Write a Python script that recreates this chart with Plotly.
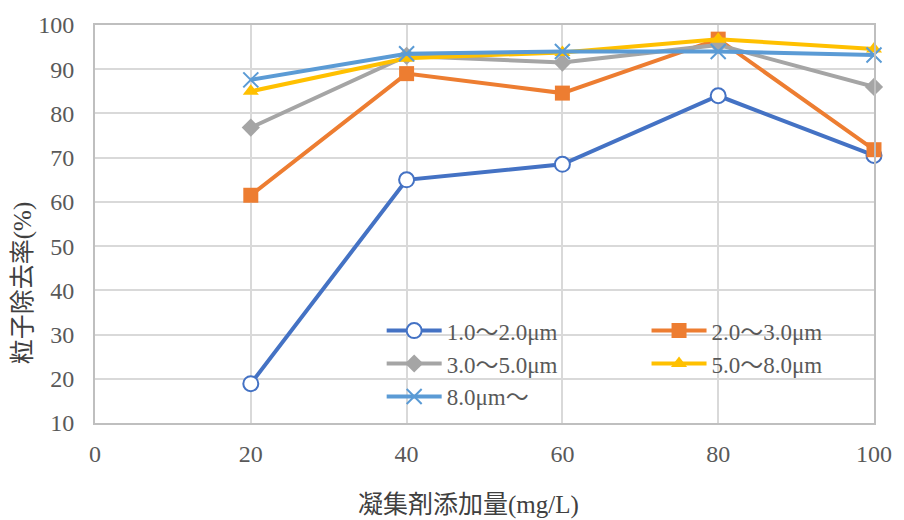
import plotly.graph_objects as go

# Coagulant dosage (mg/L)
dosage = [20, 40, 60, 80, 100]

# Particle removal rate (%) by particle size range
size_labels = ["1.0～2.0μm", "2.0～3.0μm", "3.0～5.0μm", "5.0～8.0μm", "8.0μm～"]
removal_1_2 = [18.9, 65.0, 68.5, 84.0, 70.5]
removal_2_3 = [61.5, 89.0, 84.6, 96.8, 71.8]
removal_3_5 = [76.8, 93.0, 91.5, 95.5, 86.0]
removal_5_8 = [85.0, 92.5, 93.8, 96.8, 94.6]
removal_8_up = [87.6, 93.5, 94.0, 94.0, 93.2]

y_ticks = [10, 20, 30, 40, 50, 60, 70, 80, 90, 100]
x_ticks = [0, 20, 40, 60, 80, 100]

FONT = "Liberation Serif, 'Noto Sans CJK JP', serif"
TICK_COLOR = "#595959"
GRID = "#D9D9D9"

series = [
    dict(name=size_labels[0], y=removal_1_2, color="#4472C4",
         marker=dict(symbol="circle", size=15, color="white",
                     line=dict(color="#4472C4", width=2)), legend="legend"),
    dict(name=size_labels[1], y=removal_2_3, color="#ED7D31",
         marker=dict(symbol="square", size=15, color="#ED7D31"), legend="legend2"),
    dict(name=size_labels[2], y=removal_3_5, color="#A5A5A5",
         marker=dict(symbol="diamond", size=14, color="#A5A5A5"), legend="legend"),
    dict(name=size_labels[3], y=removal_5_8, color="#FFC000",
         marker=dict(symbol="triangle-up", size=14, color="#FFC000"), legend="legend2"),
    dict(name=size_labels[4], y=removal_8_up, color="#5B9BD5",
         marker=dict(symbol="x-thin", size=15,
                     line=dict(color="#5B9BD5", width=2)), legend="legend"),
]

fig = go.Figure()
for s in series:
    fig.add_trace(go.Scatter(
        x=dosage, y=s["y"], name=s["name"], mode="lines+markers",
        line=dict(color=s["color"], width=4),
        marker=s["marker"], legend=s["legend"], legendgroup=s["name"],
        cliponaxis=False,
    ))

legend_style = dict(
    bgcolor="rgba(0,0,0,0)", font=dict(family=FONT, size=23, color=TICK_COLOR),
    orientation="v", xanchor="left", yanchor="top", itemwidth=55,
    tracegroupgap=5, traceorder="normal",
)

fig.update_layout(
    width=904, height=520,
    margin=dict(l=95, r=22, t=20, b=97),
    paper_bgcolor="white", plot_bgcolor="white",
    font=dict(family=FONT, size=24, color=TICK_COLOR),
    showlegend=True,
    legend=dict(x=0.368, y=0.286, **legend_style),
    legend2=dict(x=0.708, y=0.286, **legend_style),
    xaxis=dict(
        range=[0, 100], tickvals=x_ticks, showgrid=True, gridcolor=GRID, gridwidth=2,
        showline=True, linecolor="#BFBFBF", linewidth=2, mirror=True,
        zeroline=False, ticks="outside", ticklen=8, tickcolor="rgba(0,0,0,0)",
        tickfont=dict(family=FONT, size=24, color=TICK_COLOR),
    ),
    yaxis=dict(
        range=[10, 100], tickvals=y_ticks, showgrid=True, gridcolor=GRID, gridwidth=2,
        showline=True, linecolor="#BFBFBF", linewidth=2, mirror=True,
        zeroline=False, ticks="outside", ticklen=14, tickcolor="rgba(0,0,0,0)",
        tickfont=dict(family=FONT, size=24, color=TICK_COLOR),
    ),
    annotations=[
        dict(text="凝集剤添加量(mg/L)", xref="paper", yref="paper",
             x=0.48, y=-0.205, xanchor="center", yanchor="middle", showarrow=False,
             font=dict(family=FONT, size=25, color="#404040")),
        dict(text="粒子除去率(%)", xref="paper", yref="paper", textangle=-90,
             x=-0.093, y=0.35, xanchor="center", yanchor="middle", showarrow=False,
             font=dict(family=FONT, size=25, color="#404040")),
    ],
)

fig.write_html("out.html")
